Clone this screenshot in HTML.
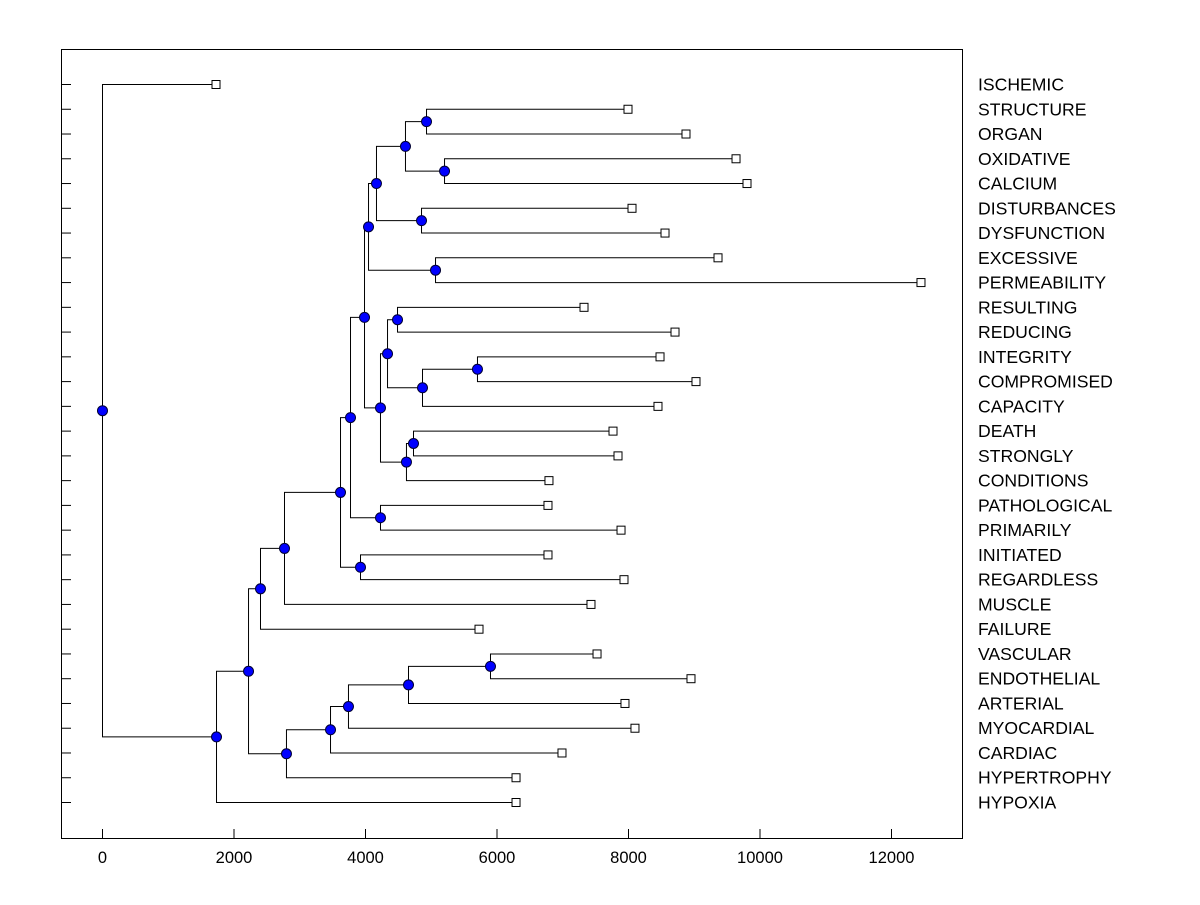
<!DOCTYPE html>
<html><head><meta charset="utf-8"><style>
body{margin:0;background:#fff;}
svg text{font-family:"Liberation Sans",Arial,sans-serif;}
</style></head><body>
<svg id="chart" width="1200" height="900" xmlns="http://www.w3.org/2000/svg">
<rect x="61.5" y="49.5" width="901" height="789" fill="#fff" stroke="#000" stroke-width="1"/>
<g id="g"></g>
</svg>
<script>
const leafNames=["ISCHEMIC","STRUCTURE","ORGAN","OXIDATIVE","CALCIUM","DISTURBANCES","DYSFUNCTION","EXCESSIVE","PERMEABILITY","RESULTING","REDUCING","INTEGRITY","COMPROMISED","CAPACITY","DEATH","STRONGLY","CONDITIONS","PATHOLOGICAL","PRIMARILY","INITIATED","REGARDLESS","MUSCLE","FAILURE","VASCULAR","ENDOTHELIAL","ARTERIAL","MYOCARDIAL","CARDIAC","HYPERTROPHY","HYPOXIA"];
const leafValues=[1734,8000,8882,9643,9810,8061,8563,9369,12456,7331,8715,8487,9034,8456,7772,7848,6798,6783,7894,6783,7939,7437,5734,7529,8958,7954,8106,6996,6297,6297];
const nodeLeft=[1,3,30,5,32,7,34,9,11,38,37,14,41,40,36,17,44,19,46,48,49,23,51,52,53,54,50,56,0];
const nodeRight=[2,4,31,6,33,8,35,10,12,13,39,15,16,42,43,18,45,20,47,21,22,24,25,26,27,28,55,29,57];
const nodeHeights=[4928,5202,4608,4852,4167,5065,4046,4487,5703,4867,4335,4730,4623,4228,3985,4228,3772,3924,3620,2768,2403,5901,4654,3741,3468,2798,2221,1734,0];
const xTicks=[0,2000,4000,6000,8000,10000,12000];

const NS="http://www.w3.org/2000/svg";
const g=document.getElementById('g');
const xs=v=>102+v*0.06575;
const ys=i=>84+i*(802-84)/29;
function mk(t,a){const e=document.createElementNS(NS,t);for(const k in a)e.setAttribute(k,a[k]);g.appendChild(e);return e;}
const N=leafNames.length;
const px=[],py=[];
for(let i=0;i<N;i++){px[i]=xs(leafValues[i]);py[i]=ys(i);}
for(let j=0;j<nodeHeights.length;j++){const k=N+j;px[k]=xs(nodeHeights[j]);py[k]=(py[nodeLeft[j]]+py[nodeRight[j]])/2;}
for(let i=0;i<N;i++){
 const t=mk('line',{x1:61,x2:71,y1:ys(i)+0.5,y2:ys(i)+0.5,stroke:'#000'});
 
 
 const l=mk('text',{x:978,y:ys(i)+6.5,'font-size':17.6});
 l.textContent=leafNames[i];
 
 
}
xTicks.forEach(v=>{
 const t=mk('line',{x1:xs(v)+0.5,x2:xs(v)+0.5,y1:829,y2:838,stroke:'#000'});
 
 
 const l=mk('text',{x:xs(v)+0.5,y:863,'font-size':16.5,'text-anchor':'middle'});
 l.textContent=v;
 
 
});
for(let j=0;j<nodeHeights.length;j++){
 const k=N+j,a=nodeLeft[j],b=nodeRight[j];
 const x=px[k]+0.5;
 const p=mk('path',{d:`M${px[a]},${py[a]+0.5}H${x}V${py[b]+0.5}H${px[b]}`,fill:'none',stroke:'#000','stroke-width':1});
 
 
}
for(let i=0;i<N;i++){
 const r=mk('rect',{x:px[i]-4,y:py[i]-3.5,width:8,height:8,fill:'#fff',stroke:'#000'});
 
 
}
for(let j=0;j<nodeHeights.length;j++){
 const k=N+j;
 const c=mk('circle',{cx:px[k]+0.5,cy:py[k]+0.5,r:5,fill:'#0000ff',stroke:'#000033','stroke-width':1});
 
 
}
</script>
</body></html>
